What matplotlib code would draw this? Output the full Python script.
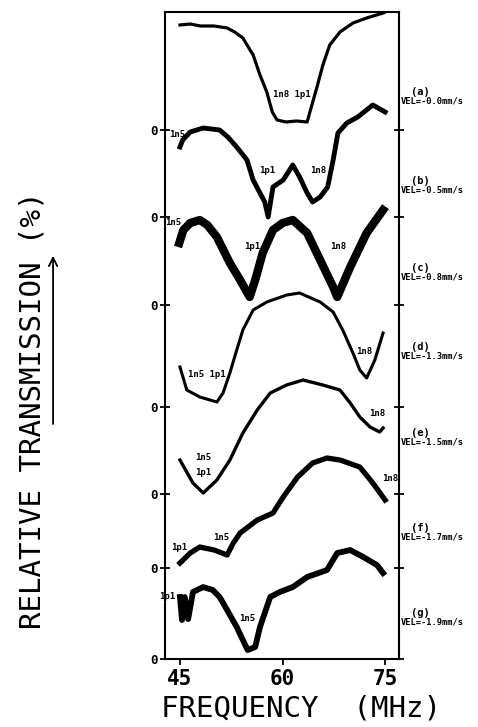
import numpy as np
import matplotlib.pyplot as plt

# curve data: frequency (MHz) and height above each trace's own zero
a_f = [45.0, 46.5, 48.0, 50.0, 51.9, 53.0, 54.2, 55.7, 56.7, 57.7, 58.5, 59.2, 60.5, 62.0, 63.6, 64.0, 65.0, 65.9, 66.9, 68.4, 70.3, 72.3, 74.7, 75.0]
a_h = [105, 106, 104, 104, 102, 98, 92, 75, 55, 38, 18, 10, 8, 9, 8, 18, 42, 65, 85, 98, 107, 112, 117, 118]

b_f = [45.0, 45.4, 46.5, 48.4, 50.8, 52.0, 53.3, 54.8, 55.7, 56.7, 57.4, 57.9, 58.6, 60.1, 61.5, 62.5, 63.6, 64.4, 65.5, 66.6, 67.4, 68.1, 69.4, 71.0, 73.2, 75.0]
b_h = [70, 77, 85, 89, 87, 80, 70, 57, 37, 24, 15, 0, 30, 37, 52, 40, 24, 15, 20, 30, 57, 84, 94, 100, 112, 105]

c_f = [44.9, 45.5, 46.5, 47.9, 49.0, 50.4, 52.3, 53.8, 55.2, 56.0, 57.1, 58.6, 60.0, 61.5, 63.6, 65.5, 67.4, 68.0, 69.9, 72.3, 74.7]
c_h = [62, 75, 82, 85, 80, 68, 42, 25, 8, 25, 52, 75, 82, 85, 72, 45, 18, 8, 38, 72, 95]

d_f = [45.0, 46.0, 47.9, 50.4, 51.3, 52.3, 53.3, 54.2, 55.7, 57.7, 60.6, 62.5, 65.5, 67.4, 68.8, 70.3, 71.3, 72.3, 73.5, 74.7]
d_h = [40, 17, 10, 5, 14, 34, 57, 77, 97, 105, 112, 114, 105, 95, 77, 54, 37, 29, 47, 74]

e_f = [45.0, 46.9, 48.4, 50.4, 52.3, 54.2, 56.3, 58.2, 60.6, 63.0, 65.9, 68.4, 69.9, 71.3, 72.8, 74.2, 74.7]
e_h = [34, 11, 1, 14, 34, 61, 84, 101, 109, 114, 109, 104, 91, 77, 67, 62, 66]

f_f = [45.0, 46.5, 47.9, 50.0, 51.9, 52.8, 53.8, 56.3, 58.6, 60.1, 62.2, 64.4, 66.5, 68.4, 71.3, 73.2, 75.0]
f_h = [5, 15, 21, 18, 13, 25, 35, 48, 55, 71, 91, 105, 110, 108, 101, 85, 68]

g_f = [45.0, 45.3, 45.7, 46.2, 46.9, 48.4, 49.8, 50.8, 51.9, 53.3, 54.2, 54.9, 56.0, 56.7, 58.2, 59.6, 61.5, 63.6, 66.5, 68.0, 69.9, 71.8, 73.8, 74.7]
g_h = [62, 39, 62, 40, 67, 72, 69, 62, 49, 32, 19, 9, 12, 32, 62, 67, 72, 82, 89, 106, 109, 102, 94, 86]

curves = [(a_f, a_h), (b_f, b_h), (c_f, c_h), (d_f, d_h), (e_f, e_h), (f_f, f_h), (g_f, g_h)]
offsets = [529, 442, 354, 252, 165, 91, 0]
panel = ['(a)', '(b)', '(c)', '(d)', '(e)', '(f)', '(g)']
vel = ['VEL=-0.0mm/s', 'VEL=-0.5mm/s', 'VEL=-0.8mm/s', 'VEL=-1.3mm/s',
       'VEL=-1.5mm/s', 'VEL=-1.7mm/s', 'VEL=-1.9mm/s']

# level labels: (curve index, text, freq, height above zero)
levels = [
    (0, '1n8 1p1', 61.4, 35),
    (1, '1n5', 44.6, 83), (1, '1p1', 57.7, 47), (1, '1n8', 65.2, 47),
    (2, '1n5', 44.0, 83), (2, '1p1', 55.5, 59), (2, '1n8', 68.1, 59),
    (3, '1n5 1p1', 49.0, 33), (3, '1n8', 72.0, 56),
    (4, '1n5', 48.4, 37), (4, '1p1', 48.4, 22), (4, '1n8', 73.9, 81),
    (5, '1p1', 44.9, 21), (5, '1n5', 51.1, 31), (5, '1n8', 75.7, 90),
    (6, '1p1', 43.1, 63), (6, '1n5', 54.9, 41),
]

widths = [2.3, 3.5, 6.0, 2.2, 2.4, 3.8, 4.2]
label_up = [33, 31, 32, 55, 56, 35, 41]

mono = 'DejaVu Sans Mono'

fig = plt.figure(figsize=(4.78, 7.27), dpi=100)
ax = fig.add_axes([0.345, 0.0935, 0.490, 0.890])

for (fr, h), off, lw in zip(curves, offsets, widths):
    ax.plot(fr, np.array(h) + off, color='black', lw=lw, solid_joinstyle='round')

for i, txt, fr, h in levels:
    ax.text(fr, offsets[i] + h, txt, fontsize=6.5, fontweight='bold', family=mono,
            ha='center', va='center', clip_on=False)

for off, p, v, up in zip(offsets, panel, vel, label_up):
    ax.text(80.1, off + up + 5, p, fontsize=7.5, fontweight='bold', family=mono,
            ha='center', va='center', clip_on=False)
    ax.text(77.3, off + up - 4, v, fontsize=6.3, fontweight='bold', family=mono,
            ha='left', va='center', clip_on=False)

ax.set_xlim(42.8, 77.05)
ax.set_ylim(0, 647)
ax.set_xticks([45, 60, 75])
ax.set_xticklabels(['45', '60', '75'], family=mono, fontsize=15, fontweight='bold')
ax.set_yticks(offsets)
ax.set_yticklabels(['0'] * len(offsets), family=mono, fontsize=9, fontweight='bold')
ax.tick_params(axis='y', direction='inout', length=7, width=1.3, pad=2, right=True)
ax.tick_params(axis='x', direction='out', length=4, width=1.3, pad=3)
for s in ax.spines.values():
    s.set_linewidth(1.5)

fig.text(0.63, 0.026, 'FREQUENCY  (MHz)', family=mono, fontsize=21,
         ha='center', va='center')
fig.text(0.069, 0.436, 'RELATIVE TRANSMISSION (%)', family=mono, fontsize=21,
         rotation=90, ha='center', va='center')
fig.patches.append(plt.matplotlib.patches.FancyArrowPatch(
    (0.111, 0.413), (0.111, 0.652), transform=fig.transFigure,
    arrowstyle='->,head_length=6,head_width=3', lw=1.3, color='black'))

fig.savefig('out.png', dpi=100)
